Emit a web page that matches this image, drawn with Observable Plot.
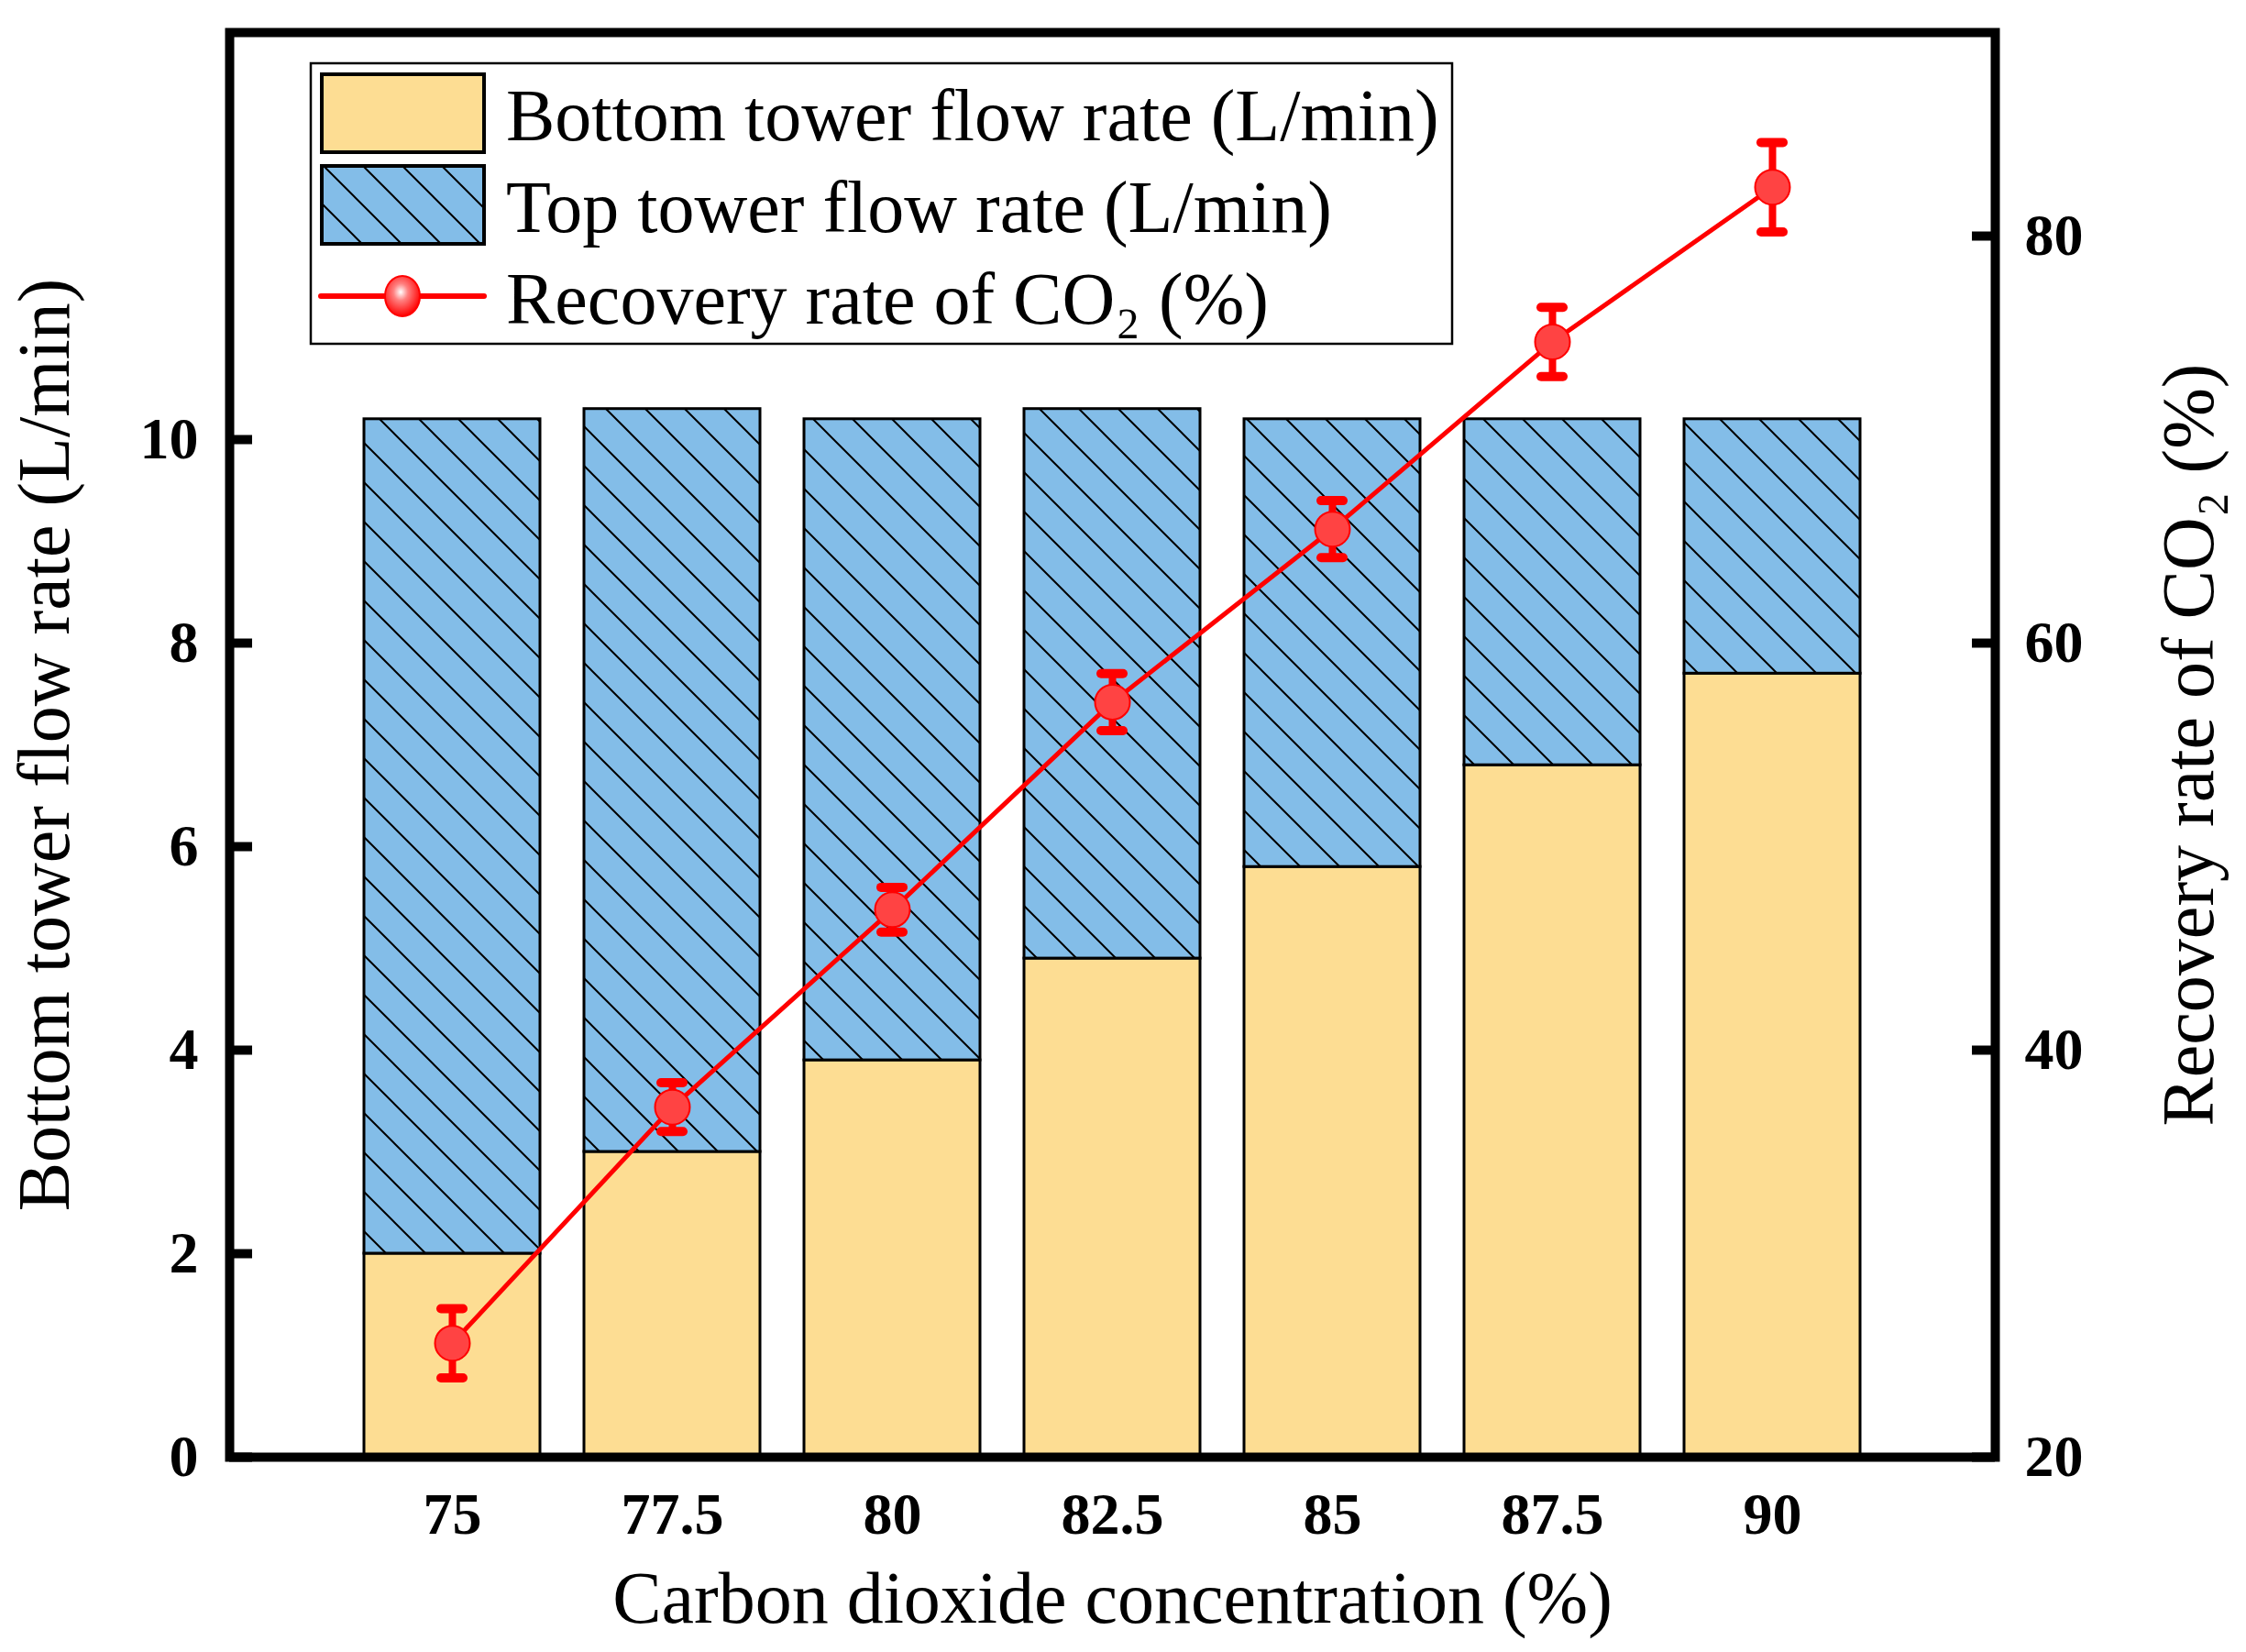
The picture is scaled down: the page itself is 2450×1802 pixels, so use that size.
<!DOCTYPE html>
<html>
<head>
<meta charset="utf-8">
<script src="https://cdn.jsdelivr.net/npm/d3@7"></script>
<script src="https://cdn.jsdelivr.net/npm/@observablehq/plot@0.6"></script>
<style>
  body { margin: 0; background: #fff; }
  #chart { width: 2450px; height: 1802px; }
</style>
</head>
<body>
<div id="chart"></div>
<script>
// valores
const concentrations = ["75", "77.5", "80", "82.5", "85", "87.5", "90"];
const bottomFlow = [2.0, 3.0, 3.9, 4.9, 5.8, 6.8, 7.7];   // L/min
const topFlow = [8.2, 7.3, 6.3, 5.4, 4.4, 3.4, 2.5];      // L/min
const recovery = [25.6, 37.2, 46.9, 57.1, 65.6, 74.8, 82.4]; // %
const recoveryErr = [1.7, 1.2, 1.1, 1.4, 1.4, 1.7, 2.2];
const leftTicks = [0, 2, 4, 6, 8, 10];
const rightTicks = [20, 40, 60, 80];

const W = 2450, H = 1802;
const mL = 250, mR = 274, mT = 35, mB = 213;
const plotW = W - mL - mR;

// eje derecho 20..90 sobre el eje izquierdo 0..14
const toLeft = r => (r - 20) / 5;

const bars = concentrations.map((c, i) => ({
  c,
  b: bottomFlow[i],
  t: bottomFlow[i] + topFlow[i],
  r: toLeft(recovery[i]),
  lo: toLeft(recovery[i] - recoveryErr[i]),
  hi: toLeft(recovery[i] + recoveryErr[i])
}));

const YELLOW = "#fddd93";
const BLUE = "#83bde8";
const RED = "#ff0000";
const font = "Liberation Serif";

let chart = Plot.plot({
  width: W,
  height: H,
  marginLeft: mL,
  marginRight: mR,
  marginTop: mT,
  marginBottom: mB,
  style: { fontFamily: font, color: "black", background: "white", overflow: "visible" },
  x: { type: "band", domain: concentrations, paddingInner: 0.2, paddingOuter: 0.6, axis: null },
  y: { domain: [0, 14], axis: null },
  marks: [
    Plot.barY(bars, { x: "c", y1: 0, y2: "b", fill: YELLOW, stroke: "black", strokeWidth: 3 }),
    Plot.barY(bars, { x: "c", y1: "b", y2: "t", fill: "url(#hatch)", stroke: "black", strokeWidth: 3 }),

    Plot.line(bars, { x: "c", y: "r", stroke: RED, strokeWidth: 5 }),
    Plot.ruleX(bars, { x: "c", y1: "lo", y2: "hi", stroke: RED, strokeWidth: 8 }),
    Plot.tickY(bars, { x: "c", y: "lo", stroke: RED, strokeWidth: 10, strokeLinecap: "round", insetLeft: 84, insetRight: 84 }),
    Plot.tickY(bars, { x: "c", y: "hi", stroke: RED, strokeWidth: 10, strokeLinecap: "round", insetLeft: 84, insetRight: 84 }),
    Plot.dot(bars, { x: "c", y: "r", r: 19, fill: "#ff4343", stroke: RED, strokeWidth: 2 }),

    Plot.frame({ stroke: "black", strokeWidth: 10 }),
    // ticks hacia adentro
    Plot.tickY(leftTicks, { y: d => d, stroke: "black", strokeWidth: 10, insetRight: plotW - 25 }),
    Plot.tickY(rightTicks.map(toLeft), { y: d => d, stroke: "black", strokeWidth: 10, insetLeft: plotW - 25 }),

    Plot.axisX({ tickSize: 0, tickPadding: 38, fontSize: 64, fontWeight: "bold", label: null }),
    Plot.axisY(leftTicks, {
      anchor: "left", tickSize: 0, tickPadding: 34, fontSize: 64, fontWeight: "bold", label: null,
      tickFormat: d => String(d)
    }),
    Plot.axisY(rightTicks.map(toLeft), {
      anchor: "right", tickSize: 0, tickPadding: 32, fontSize: 64, fontWeight: "bold", label: null,
      tickFormat: d => String(Math.round(d * 5 + 20))
    }),

    Plot.text(["Carbon dioxide concentration (%)"], {
      text: d => d, frameAnchor: "bottom", textAnchor: "middle", lineAnchor: "middle", dy: 155, fontSize: 80
    }),
    Plot.text(["Bottom tower flow rate (L/min)"], {
      text: d => d, frameAnchor: "left", textAnchor: "middle", lineAnchor: "middle", rotate: -90, dx: -201, fontSize: 80
    }),
    Plot.text(["Recovery rate of CO₂ (%)"], {
      text: d => d, frameAnchor: "right", textAnchor: "middle", lineAnchor: "middle", rotate: -90, dx: 212, fontSize: 80
    })
  ]
});

// patron rayado para la barra de arriba
const svg = d3.select(chart);
const defs = svg.insert("defs", ":first-child");
const pat = defs.append("pattern")
  .attr("id", "hatch")
  .attr("patternUnits", "userSpaceOnUse")
  .attr("width", 43).attr("height", 43);
pat.append("rect").attr("width", 43).attr("height", 43).attr("fill", BLUE);
pat.append("path")
  .attr("d", "M-4,-4L47,47M-4,39L4,47M39,-4L47,4")
  .attr("stroke", "black").attr("stroke-width", 2);
const grad = defs.append("radialGradient").attr("id", "ball").attr("cx", "0.45").attr("cy", "0.4").attr("r", "0.6");
grad.append("stop").attr("offset", "0").attr("stop-color", "#ffffff");
grad.append("stop").attr("offset", "0.35").attr("stop-color", "#ff8080");
grad.append("stop").attr("offset", "1").attr("stop-color", "#ff0000");

// leyenda
const lg = svg.append("g")
  .attr("font-family", font).attr("font-size", 80).attr("fill", "black")
  .attr("text-anchor", "start");
lg.append("rect").attr("x", 339).attr("y", 69).attr("width", 1245).attr("height", 306)
  .attr("fill", "white").attr("stroke", "black").attr("stroke-width", 2.5);
lg.append("rect").attr("x", 351).attr("y", 81).attr("width", 177).attr("height", 85)
  .attr("fill", YELLOW).attr("stroke", "black").attr("stroke-width", 4);
lg.append("rect").attr("x", 351).attr("y", 181).attr("width", 177).attr("height", 85)
  .attr("fill", "url(#hatch)").attr("stroke", "black").attr("stroke-width", 4);
lg.append("path").attr("d", "M350,323H528")
  .attr("fill", "none").attr("stroke", RED).attr("stroke-width", 6).attr("stroke-linecap", "round");
lg.append("ellipse").attr("cx", 439).attr("cy", 323).attr("rx", 19).attr("ry", 22)
  .attr("fill", "url(#ball)").attr("stroke", RED).attr("stroke-width", 2);
const labels = ["Bottom tower flow rate (L/min)", "Top tower flow rate (L/min)", "Recovery rate of CO₂ (%)"];
labels.forEach((t, i) => {
  lg.append("text").attr("x", 552).attr("y", 153 + i * 100).attr("text-anchor", "start").text(t);
});

d3.select("#chart").append(() => chart);
</script>
</body>
</html>
